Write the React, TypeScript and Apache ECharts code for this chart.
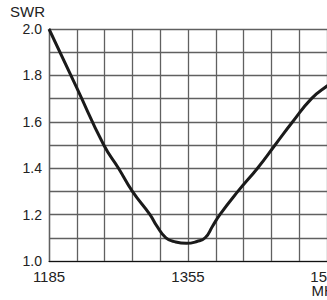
import React, { useEffect, useRef } from "react";
import * as echarts from "echarts";

const freqMHz = [1185, 1219, 1252, 1270, 1287, 1308.5, 1317, 1328, 1340, 1353, 1366, 1376, 1385, 1394, 1416, 1440, 1461.5, 1483, 1506, 1525, 1545];
const swr = [2.0, 1.746, 1.5, 1.4, 1.3, 1.2, 1.15, 1.1, 1.082, 1.076, 1.084, 1.1, 1.15, 1.2, 1.3, 1.4, 1.5, 1.6, 1.7, 1.754, 1.8];
const xLabelValues = [1185, 1355, 1525];
const yName = "SWR";
const xUnit = "MHz";

export default function App() {
  const ref = useRef<HTMLDivElement>(null);
  useEffect(() => {
    if (!ref.current) return;
    const chart = echarts.init(ref.current, null, { renderer: "svg" });
    const font = "Liberation Sans, Arial, sans-serif";
    const gridColor = "#606060";
    chart.setOption({
      animation: false,
      backgroundColor: "#fff",
      grid: { left: 49, top: 29, width: 333.6, height: 232, containLabel: false },
      graphic: [
        {
          type: "text",
          left: 10,
          top: 4,
          style: { text: yName, fontSize: 15, fontFamily: font, fill: "#222" },
        },
      ],
      xAxis: {
        type: "value",
        min: 1185,
        max: 1593,
        interval: 34,
        axisLine: { show: true, lineStyle: { color: "#111", width: 1.2 } },
        axisTick: { show: false },
        splitLine: { show: true, lineStyle: { color: gridColor, width: 1.3 } },
        axisLabel: {
          interval: 0,
          margin: 8,
          fontSize: 15,
          lineHeight: 14,
          fontFamily: font,
          color: "#222",
          formatter: (v: number) => {
            const r = Math.round(v);
            if (!xLabelValues.includes(r)) return "";
            return r === xLabelValues[xLabelValues.length - 1] ? `${r}\n${xUnit}` : `${r}`;
          },
        },
      },
      yAxis: {
        type: "value",
        min: 1.0,
        max: 2.0,
        interval: 0.1,
        axisLine: { show: true, lineStyle: { color: gridColor, width: 1.3 } },
        axisTick: { show: false },
        splitLine: { show: true, lineStyle: { color: gridColor, width: 1.3 } },
        axisLabel: {
          margin: 7,
          fontSize: 14,
          fontFamily: font,
          color: "#222",
          formatter: (v: number) => (Math.round(v * 10) % 2 === 0 ? v.toFixed(1) : ""),
        },
      },
      series: [
        {
          type: "line",
          data: freqMHz.map((f, i) => [f, swr[i]]),
          smooth: 0.5,
          symbol: "none",
          clip: true,
          lineStyle: { color: "#1a1a1a", width: 3 },
        },
      ],
    });
    return () => chart.dispose();
  }, []);
  return (
    <div style={{ position: "fixed", left: 0, top: 0, width: 327, height: 300, overflow: "hidden" }}>
      <div ref={ref} style={{ width: 400, height: 300 }} />
    </div>
  );
}
